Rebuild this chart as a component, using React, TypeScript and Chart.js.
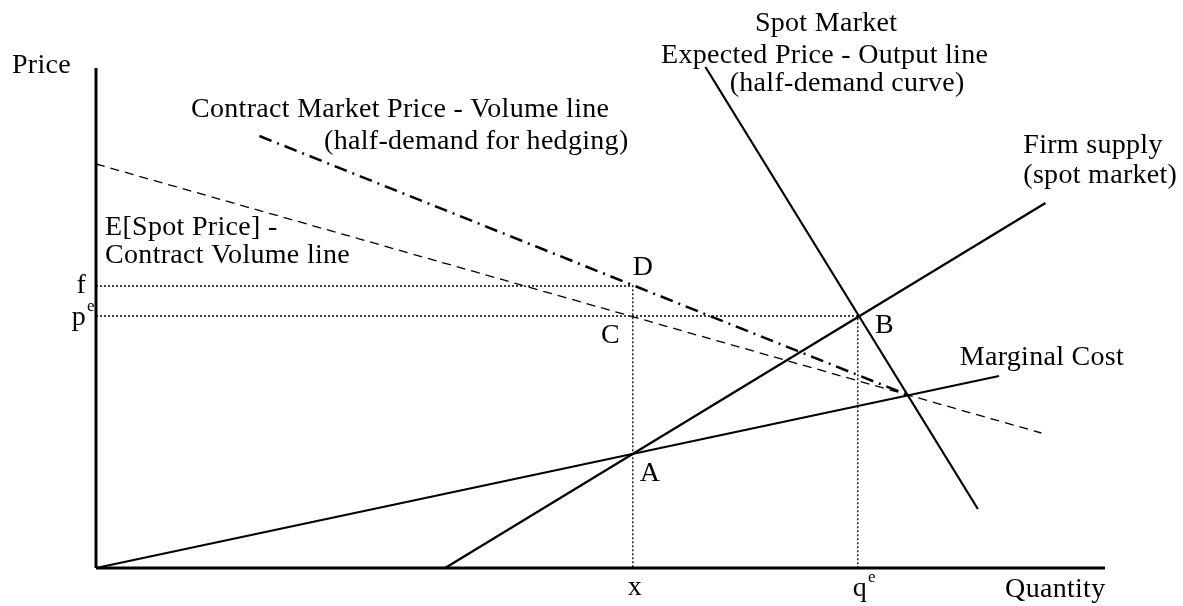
import React, { useEffect, useRef } from "react";
import { Chart, registerables } from "chart.js";

Chart.register(...registerables);

// Key values (axis units 0..100)
const fValue = 56.4;
const peValue = 50.4;
const xValue = 53.2;
const qeValue = 75.5;

const axisY = [{ x: 0, y: 0 }, { x: 0, y: 100 }];
const axisX = [{ x: 0, y: 0 }, { x: 100, y: 0 }];
const marginalCost = [{ x: 0, y: 0 }, { x: 89.5, y: 38.4 }];
const firmSupply = [{ x: 34.6, y: 0 }, { x: 94.1, y: 73.0 }];
const spotDemand = [{ x: 60.4, y: 100.2 }, { x: 87.4, y: 11.8 }];
const expectedSpotLine = [{ x: 0, y: 80.8 }, { x: 93.7, y: 27.0 }];
const contractLine = [{ x: 16.2, y: 86.4 }, { x: 80.2, y: 34.8 }];
const fGuide = [{ x: 0, y: fValue }, { x: xValue, y: fValue }, { x: xValue, y: 0 }];
const peGuide = [{ x: 0, y: peValue }, { x: qeValue, y: peValue }, { x: qeValue, y: 0 }];

type Lbl = { text: string; x: number; y: number; align?: CanvasTextAlign; sup?: string };
const labels: Lbl[] = [
  { text: "Price", x: -8.33, y: 99 },
  { text: "Contract Market Price - Volume line", x: 9.42, y: 90.2 },
  { text: "(half-demand for hedging)", x: 22.6, y: 83.8 },
  { text: "Spot Market", x: 65.3, y: 107.5 },
  { text: "Expected Price - Output line", x: 56.0, y: 101.1 },
  { text: "(half-demand curve)", x: 62.8, y: 95.5 },
  { text: "Firm supply", x: 91.9, y: 83 },
  { text: "(spot market)", x: 91.9, y: 77 },
  { text: "Marginal Cost", x: 85.6, y: 40.6 },
  { text: "E[Spot Price] -", x: 0.9, y: 66.6 },
  { text: "Contract Volume line", x: 0.9, y: 61 },
  { text: "D", x: 53.2, y: 58.6 },
  { text: "C", x: 50.05, y: 45 },
  { text: "B", x: 77.2, y: 47 },
  { text: "A", x: 53.9, y: 17.4 },
  { text: "f", x: -0.99, y: 55, align: "right" },
  { text: "p", x: -2.4, y: 48.6, sup: "e" },
  { text: "x", x: 53.4, y: -5.4, align: "center" },
  { text: "q", x: 75.0, y: -5.6, sup: "e" },
  { text: "Quantity", x: 90.1, y: -5.8 },
];

const FONT = '"Liberation Serif", "Times New Roman", serif';

const labelPlugin = {
  id: "labels",
  afterDraw(chart: any) {
    const ctx = chart.ctx;
    const xs = chart.scales.x;
    const ys = chart.scales.y;
    ctx.save();
    ctx.fillStyle = "#000";
    ctx.textBaseline = "alphabetic";
    for (const l of labels) {
      const px = xs.getPixelForValue(l.x);
      const py = ys.getPixelForValue(l.y);
      ctx.font = `28px ${FONT}`;
      (ctx as any).letterSpacing = "0.3px";
      ctx.textAlign = l.align || "left";
      ctx.fillText(l.text, px, py);
      if (l.sup) {
        const w = ctx.measureText(l.text).width;
        ctx.font = `17px ${FONT}`;
        (ctx as any).letterSpacing = "0px";
        ctx.textAlign = "left";
        ctx.fillText(l.sup, px + w + 1, py - 14);
      }
    }
    ctx.restore();
  },
};

function line(data: any[], width: number, dash: number[] = []) {
  return {
    data,
    showLine: true,
    borderColor: "#000",
    backgroundColor: "#000",
    borderWidth: width,
    borderDash: dash,
    pointRadius: 0,
    pointHoverRadius: 0,
    tension: 0,
    clip: false as any,
    borderCapStyle: "butt" as const,
  };
}

export default function App() {
  const ref = useRef<HTMLCanvasElement | null>(null);
  useEffect(() => {
    if (!ref.current) return;
    const chart = new Chart(ref.current, {
      type: "scatter",
      data: {
        datasets: [
          line(fGuide, 1.3, [2, 2]),
          line(peGuide, 1.3, [2, 2]),
          line(expectedSpotLine, 1.3, [9, 6]),
          line(contractLine, 2.5, [13, 6, 2, 6]),
          line(marginalCost, 2.2),
          line(firmSupply, 2.2),
          line(spotDemand, 2.2),
          line(axisY, 3),
          line(axisX, 3),
        ] as any,
      },
      options: {
        animation: false,
        responsive: false,
        events: [],
        layout: { padding: { left: 96, right: 78, top: 68, bottom: 38 } },
        plugins: { legend: { display: false }, tooltip: { enabled: false } },
        scales: {
          x: { type: "linear", min: 0, max: 100, display: false },
          y: { type: "linear", min: 0, max: 100, display: false },
        },
      },
      plugins: [labelPlugin],
    });
    return () => chart.destroy();
  }, []);
  return (
    <div style={{ position: "fixed", left: 0, top: 0, width: 1183, height: 606, background: "#fff" }}>
      <canvas ref={ref} width={1183} height={606} />
    </div>
  );
}
